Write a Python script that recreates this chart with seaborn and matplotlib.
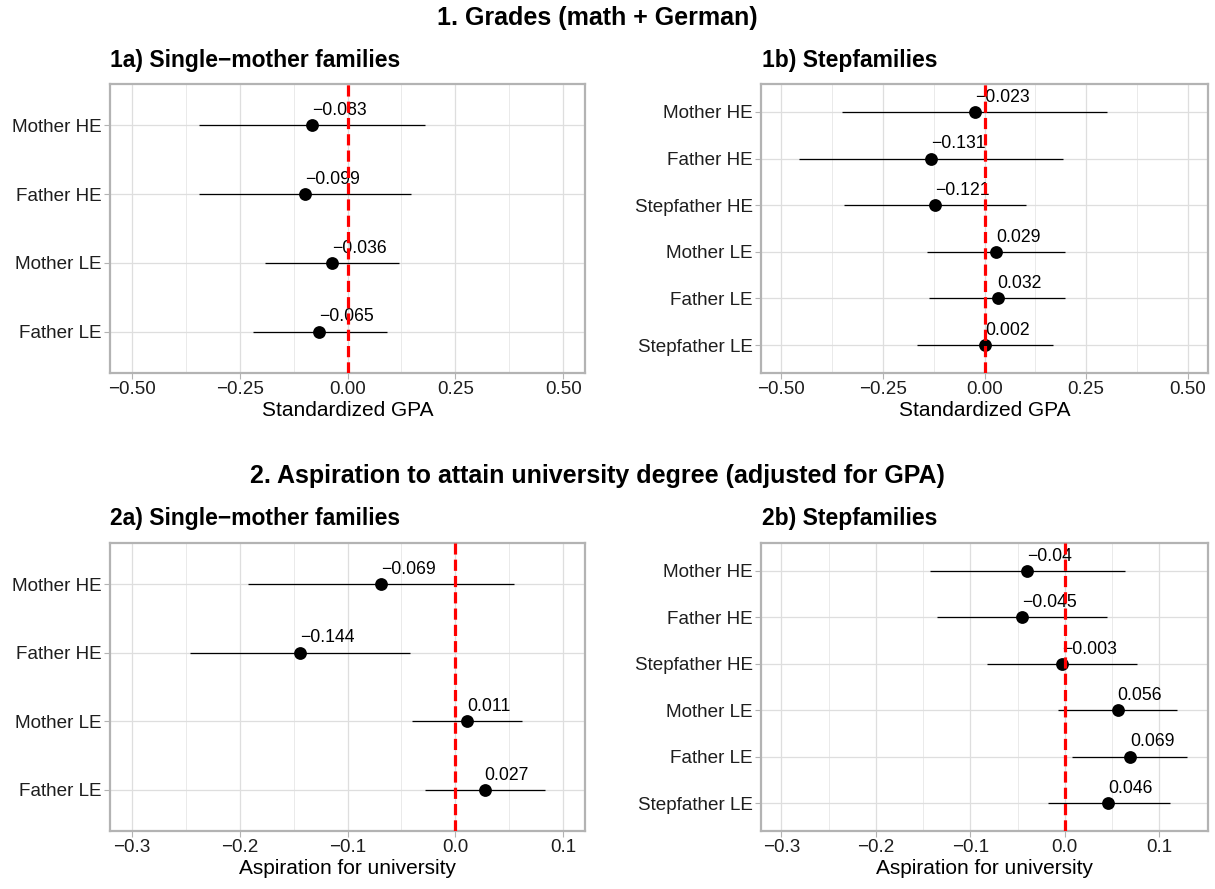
import matplotlib
matplotlib.use("Agg")
import matplotlib.pyplot as plt
import seaborn as sns
import pandas as pd
import numpy as np

# Panel 1: grades, categories top to bottom
cats_single = ["Mother HE", "Father HE", "Mother LE", "Father LE"]
cats_step = ["Mother HE", "Father HE", "Stepfather HE",
             "Mother LE", "Father LE", "Stepfather LE"]

gpa_single_est = [-0.083, -0.099, -0.036, -0.065]
gpa_single_lo = [-0.343, -0.345, -0.190, -0.218]
gpa_single_hi = [0.179, 0.147, 0.119, 0.091]

gpa_step_est = [-0.023, -0.131, -0.121, 0.029, 0.032, 0.002]
gpa_step_lo = [-0.350, -0.456, -0.345, -0.142, -0.136, -0.166]
gpa_step_hi = [0.301, 0.193, 0.103, 0.199, 0.197, 0.169]

# Panel 2: aspiration for university
asp_single_est = [-0.069, -0.144, 0.011, 0.027]
asp_single_lo = [-0.192, -0.2455, -0.040, -0.028]
asp_single_hi = [0.0545, -0.042, 0.062, 0.083]

asp_step_est = [-0.040, -0.045, -0.003, 0.056, 0.069, 0.046]
asp_step_lo = [-0.143, -0.135, -0.082, -0.007, 0.008, -0.018]
asp_step_hi = [0.064, 0.045, 0.076, 0.119, 0.129, 0.111]

gpa_ticks = [-0.50, -0.25, 0.00, 0.25, 0.50]
asp_ticks = [-0.3, -0.2, -0.1, 0.0, 0.1]

sns.set_theme(style="white")
plt.rcParams["font.family"] = ["Liberation Sans", "DejaVu Sans"]
plt.rcParams["text.color"] = "black"

FIG_W, FIG_H = 1215, 889
fig = plt.figure(figsize=(FIG_W / 100, FIG_H / 100), dpi=100)


def fmt(v):
    s = f"{v:.3f}".rstrip("0") if abs(v * 100 - round(v * 100)) < 1e-9 else f"{v:.3f}"
    return s.replace("-", "\u2212")


def panel(rect, cats, est, lo, hi, ticks, tick_fmt, lims, xlabel):
    ax = fig.add_axes(rect)
    df = pd.DataFrame({"cat": cats, "est": est, "lo": lo, "hi": hi})
    df["pos"] = np.arange(len(df))

    ax.hlines(df["pos"], df["lo"], df["hi"], color="black", lw=0.9, zorder=2)
    sns.scatterplot(data=df, x="est", y="pos", ax=ax, color="black",
                    s=85, edgecolor="black", linewidth=0, zorder=3, legend=False)
    for _, r in df.iterrows():
        ax.annotate(fmt(r["est"]), (r["est"], r["pos"]), xytext=(0, 4.5),
                    textcoords="offset points", ha="left", va="bottom",
                    fontsize=12.7, color="black", zorder=4)
    ax.axvline(0, color="red", lw=2.3, ls=(0, (3.5, 1.6)), zorder=5)

    ax.set_xlim(*lims)
    ax.set_ylim(len(df) - 0.4, -0.6)
    ax.set_xticks(ticks)
    ax.set_xticklabels([tick_fmt(t) for t in ticks])
    minor = [(a + b) / 2 for a, b in zip(ticks[:-1], ticks[1:])]
    ax.set_xticks(minor, minor=True)
    ax.set_yticks(df["pos"])
    ax.set_yticklabels(df["cat"])
    ax.set_ylabel("")
    ax.set_xlabel(xlabel, fontsize=15, color="black", labelpad=2)

    ax.grid(True, which="major", color="#DEDEDE", lw=0.9)
    ax.grid(True, which="minor", axis="x", color="#E6E6E6", lw=0.6)
    ax.set_axisbelow(True)
    for sp in ax.spines.values():
        sp.set_color("#B3B3B3")
        sp.set_linewidth(1.6)
    ax.tick_params(axis="both", which="major", length=4, width=0.8,
                   color="#B3B3B3", labelsize=13.6, labelcolor="#1E1E1E", pad=2,
                   bottom=True, left=True)
    ax.tick_params(axis="x", which="minor", length=0)
    return ax


def tf_gpa(t):
    return f"{t:.2f}".replace("-", "\u2212")


def tf_asp(t):
    return f"{t:.1f}".replace("-", "\u2212")


def rect(l, r, t, b):
    return [l / FIG_W, 1 - b / FIG_H, (r - l) / FIG_W, (b - t) / FIG_H]


panel(rect(110, 585, 84, 373), cats_single, gpa_single_est, gpa_single_lo,
      gpa_single_hi, gpa_ticks, tf_gpa, (-0.55, 0.55), "Standardized GPA")
panel(rect(761, 1208, 84, 373), cats_step, gpa_step_est, gpa_step_lo,
      gpa_step_hi, gpa_ticks, tf_gpa, (-0.55, 0.55), "Standardized GPA")
panel(rect(110, 585, 543, 831), cats_single, asp_single_est, asp_single_lo,
      asp_single_hi, asp_ticks, tf_asp, (-0.32, 0.12), "Aspiration for university")
panel(rect(761, 1208, 543, 831), cats_step, asp_step_est, asp_step_lo,
      asp_step_hi, asp_ticks, tf_asp, (-0.3215, 0.1515), "Aspiration for university")

fig.text(597 / FIG_W, 1 - 18 / FIG_H, "1. Grades (math + German)", ha="center",
         va="center", fontsize=18, fontweight="bold")
fig.text(597 / FIG_W, 1 - 476 / FIG_H, "2. Aspiration to attain university degree (adjusted for GPA)",
         ha="center", va="center", fontsize=18, fontweight="bold")
fig.text(110 / FIG_W, 1 - 61 / FIG_H, "1a) Single\u2212mother families",
         ha="left", va="center", fontsize=16.5, fontweight="bold")
fig.text(762 / FIG_W, 1 - 61 / FIG_H, "1b) Stepfamilies",
         ha="left", va="center", fontsize=16.5, fontweight="bold")
fig.text(110 / FIG_W, 1 - 519 / FIG_H, "2a) Single\u2212mother families",
         ha="left", va="center", fontsize=16.5, fontweight="bold")
fig.text(762 / FIG_W, 1 - 519 / FIG_H, "2b) Stepfamilies",
         ha="left", va="center", fontsize=16.5, fontweight="bold")

fig.savefig("out.png", dpi=100, facecolor="white")
